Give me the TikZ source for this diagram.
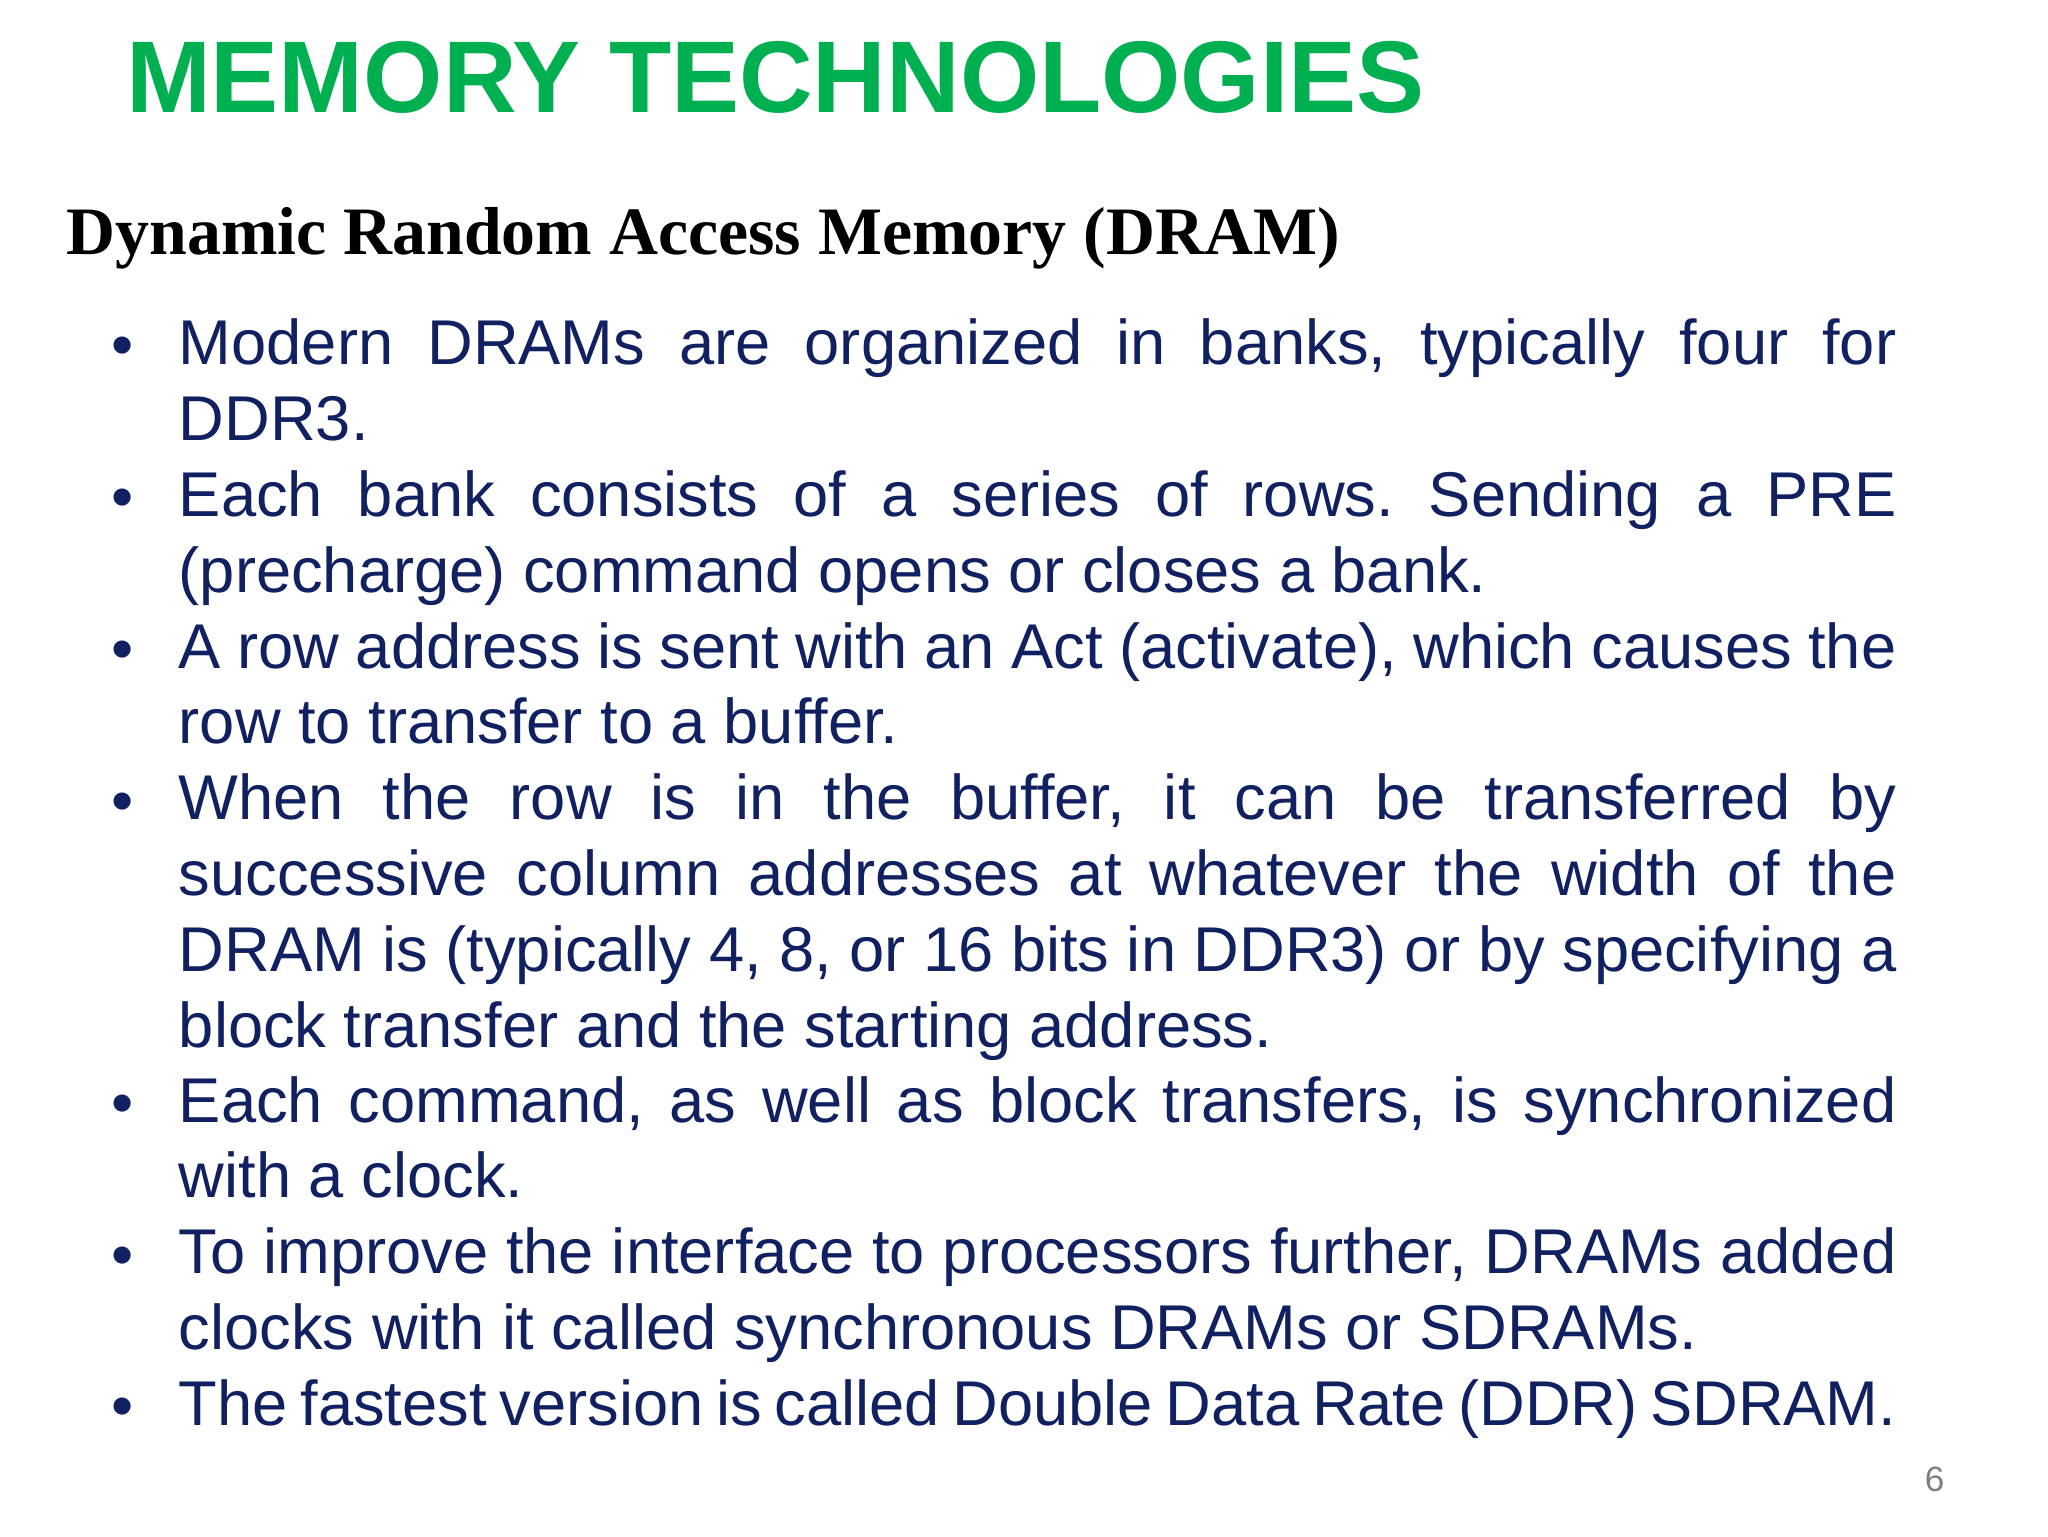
\documentclass[tikz,border=0pt]{standalone}
\usepackage{fontspec}
\setmainfont{Liberation Sans}
\newfontfamily\serifbold{Liberation Serif}
\usetikzlibrary{positioning}
\definecolor{titlegreen}{RGB}{0,176,80}
\definecolor{bodynavy}{RGB}{16,32,96}
\frenchspacing
\hyphenpenalty=10000
\exhyphenpenalty=10000
\tikzset{
        itemtext/.style={anchor=north west, inner sep=0pt, text width=17.18cm, align=justify, text=bodynavy, font=\fontsize{18pt}{21.6pt}\selectfont},
        dot/.style={anchor=base, inner sep=0pt, text=bodynavy, font=\fontsize{18pt}{21.6pt}\selectfont},
    }
\begin{document}
\begin{tikzpicture}[x=0.0132cm, y=-0.0132cm]
        \useasboundingbox[fill=white] (0,0) rectangle (1552,1164);
        % TITLE
        \node[anchor=base west, inner sep=0pt, text=titlegreen, font=\fontsize{29pt}{34pt}\selectfont\bfseries] (title) at (95,85) {MEMORY TECHNOLOGIES};
        \node[anchor=base west, inner sep=0pt, font=\fontsize{19.3pt}{23pt}\selectfont\serifbold\bfseries] (subtitle) at (50,193) {Dynamic Random Access Memory (DRAM)};

        % BULLETS
        \foreach \y/\name/\txt in {
            278/b1/{Modern DRAMs are organized in banks, typically four for DDR3.},
            393/b2/{Each bank consists of a series of rows. Sending a PRE (precharge) command opens or closes a bank.},
            508/b3/{A row address is sent with an Act (activate), which causes the row to transfer to a buffer.},
            623/b4/{When the row is in the buffer, it can be transferred by successive column addresses at whatever the width of the DRAM is (typically 4, 8, or 16 bits in DDR3) or by specifying a block transfer and the starting address.},
            852/b5/{Each command, as well as block transfers, is synchronized with a clock.},
            967/b6/{To improve the interface to processors further, DRAMs added clocks with it called synchronous DRAMs or SDRAMs.},
            1082/b7/{The fastest version is called Double Data Rate (DDR) SDRAM.}
        }{
            \node[dot] (\name dot) at (93,\y) {\textbullet};
            \node[itemtext] (\name) at (135,\y-37) {\hyphenpenalty=10000\relax\txt\par};
        }

        % PAGE NUMBER
        \node[anchor=base, inner sep=0pt, text=gray, font=\fontsize{10pt}{12pt}\selectfont] (page) at (1466,1130) {6};
    \end{tikzpicture}
\end{document}
